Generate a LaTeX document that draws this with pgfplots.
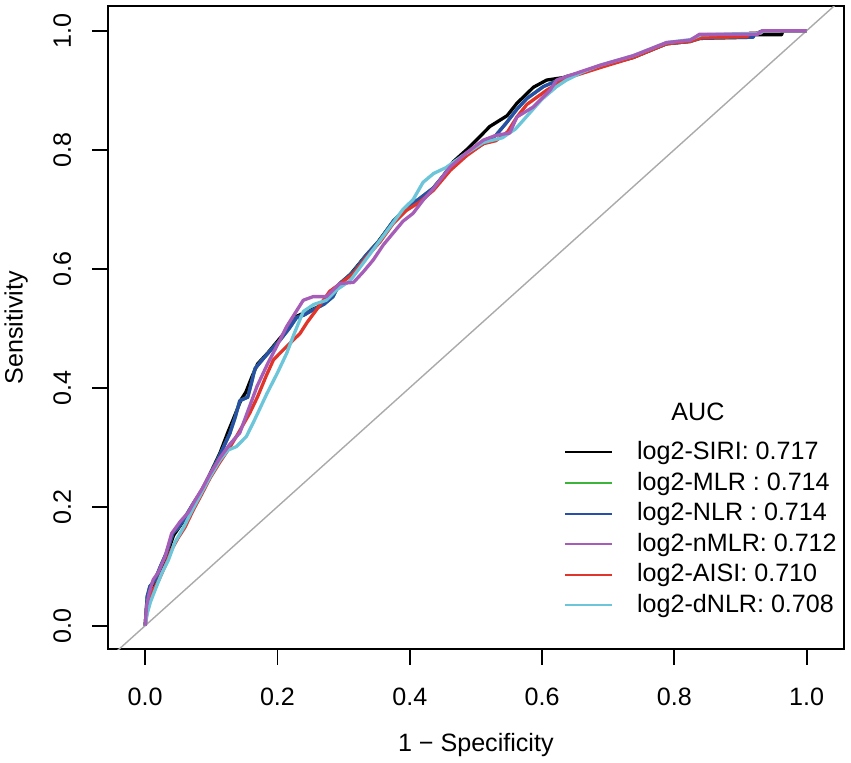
\documentclass[border=0pt]{standalone}
\usepackage{fontspec}
\setmainfont{Liberation Sans}
\usepackage{pgfplots}
\pgfplotsset{compat=1.18}
\definecolor{colBlack}{RGB}{0,0,0}
\definecolor{colGreen}{RGB}{60,180,60}
\definecolor{colBlue}{RGB}{40,80,168}
\definecolor{colPurple}{RGB}{166,93,184}
\definecolor{colRed}{RGB}{224,53,43}
\definecolor{colCyan}{RGB}{108,197,217}
\definecolor{colDiag}{RGB}{170,170,170}
\newcommand{\bigfont}{\fontsize{25.2}{30}\selectfont}
\begin{document}
\begin{tikzpicture}[x=1bp,y=1bp,font=\bigfont]
\useasboundingbox (0,0) rectangle (851,763);
\begin{axis}[
  at={(108bp,113.7bp)}, anchor=south west,
  scale only axis, width=735.7bp, height=643bp,
  xmin=-0.0562, xmax=1.056, ymin=-0.0397, ymax=1.041,
  axis line style={line width=1.8bp},
  xtick={0,0.2,0.4,0.6,0.8,1}, ytick={0,0.2,0.4,0.6,0.8,1},
  xticklabels={0.0,0.2,0.4,0.6,0.8,1.0},
  yticklabels={0.0,0.2,0.4,0.6,0.8,1.0},
  xtick pos=left, ytick pos=left,
  tick align=outside, major tick length=15.6bp,
  every tick/.style={line width=1.8bp, black},
  xticklabel style={anchor=north, inner sep=0pt, font=\bigfont},
  yticklabel style={rotate=90, anchor=south, inner sep=0pt, font=\bigfont},
  xticklabel shift=23.1bp, yticklabel shift=21.1bp,
  legend style={at={(axis cs:0.6285,0.315)}, anchor=north west, draw=none, fill=none,
    row sep=6.6bp, font=\bigfont,
    nodes={inner sep=0pt, text height=19bp, text depth=5bp},
    /tikz/every odd column/.append style={column sep=24.3bp}},
  legend cell align=left,
  legend image code/.code={\draw[#1,line width=2bp] (0bp,0bp) -- (46.7bp,0bp);},
]
\addlegendimage{color=colBlack}\addlegendentry{log2-SIRI: 0.717}
\addlegendimage{color=colGreen}\addlegendentry{log2-MLR : 0.714}
\addlegendimage{color=colBlue}\addlegendentry{log2-NLR : 0.714}
\addlegendimage{color=colPurple}\addlegendentry{log2-nMLR: 0.712}
\addlegendimage{color=colRed}\addlegendentry{log2-AISI: 0.710}
\addlegendimage{color=colCyan}\addlegendentry{log2-dNLR: 0.708}

\addplot[forget plot, color=colDiag, line width=1.4bp] coordinates {(-0.2,-0.2) (1.2,1.2)};

% SIRI
\addplot[forget plot, color=colBlack, line width=3.3bp, line join=round] coordinates {
(0,0) (0.002,0.03) (0.004,0.048) (0.008,0.062) (0.016,0.075) (0.024,0.095) (0.033,0.12) (0.043,0.152) (0.058,0.176) (0.073,0.205) (0.086,0.228) (0.098,0.255) (0.113,0.29) (0.125,0.325) (0.135,0.352) (0.145,0.38) (0.152,0.392) (0.162,0.42) (0.17,0.44) (0.185,0.458) (0.2,0.478) (0.215,0.498) (0.229,0.52) (0.245,0.528) (0.26,0.535) (0.28,0.55) (0.292,0.572) (0.31,0.59) (0.332,0.62) (0.352,0.645) (0.372,0.675) (0.392,0.7) (0.41,0.712) (0.43,0.728) (0.45,0.755) (0.466,0.78) (0.486,0.80) (0.506,0.822) (0.521,0.839) (0.547,0.857) (0.562,0.878) (0.587,0.905) (0.607,0.917) (0.637,0.922) (0.688,0.94) (0.738,0.955) (0.788,0.978) (0.824,0.982) (0.84,0.993) (0.962,0.993) (0.964,1.0) (1,1)};
% MLR
\addplot[forget plot, color=colGreen, line width=3.3bp, line join=round] coordinates {
(0,0) (0.002,0.032) (0.003,0.049) (0.007,0.066) (0.015,0.077) (0.022,0.097) (0.032,0.122) (0.042,0.156) (0.050,0.165) (0.058,0.178) (0.073,0.206) (0.085,0.226) (0.098,0.254) (0.113,0.287) (0.128,0.323) (0.136,0.35) (0.143,0.378) (0.155,0.384) (0.160,0.405) (0.166,0.432) (0.178,0.448) (0.189,0.462) (0.204,0.480) (0.218,0.500) (0.229,0.518) (0.240,0.522) (0.254,0.531) (0.270,0.540) (0.284,0.553) (0.294,0.575) (0.315,0.595) (0.335,0.624) (0.355,0.648) (0.375,0.680) (0.395,0.702) (0.415,0.718) (0.436,0.736) (0.461,0.770) (0.486,0.792) (0.511,0.810) (0.530,0.824) (0.546,0.845) (0.562,0.868) (0.577,0.886) (0.602,0.906) (0.637,0.923) (0.660,0.930) (0.688,0.940) (0.715,0.948) (0.738,0.956) (0.765,0.968) (0.788,0.978) (0.824,0.982) (0.839,0.987) (0.919,0.989) (0.921,0.994) (0.934,1.0) (1,1)};
% NLR
\addplot[forget plot, color=colBlue, line width=3.3bp, line join=round] coordinates {
(0,0) (0.002,0.032) (0.003,0.049) (0.007,0.066) (0.015,0.077) (0.022,0.097) (0.032,0.122) (0.042,0.156) (0.050,0.165) (0.058,0.178) (0.073,0.206) (0.085,0.226) (0.098,0.254) (0.113,0.287) (0.128,0.323) (0.136,0.35) (0.143,0.378) (0.155,0.384) (0.160,0.405) (0.166,0.432) (0.178,0.448) (0.189,0.462) (0.204,0.480) (0.218,0.500) (0.229,0.518) (0.240,0.522) (0.254,0.531) (0.270,0.540) (0.284,0.553) (0.294,0.575) (0.315,0.595) (0.335,0.624) (0.355,0.648) (0.375,0.680) (0.395,0.702) (0.415,0.718) (0.436,0.736) (0.461,0.770) (0.486,0.792) (0.511,0.810) (0.530,0.824) (0.546,0.845) (0.562,0.868) (0.577,0.886) (0.602,0.906) (0.637,0.923) (0.660,0.930) (0.688,0.940) (0.715,0.948) (0.738,0.956) (0.765,0.968) (0.788,0.978) (0.824,0.982) (0.839,0.987) (0.919,0.989) (0.921,0.994) (0.934,1.0) (1,1)};
% AISI
\addplot[forget plot, color=colRed, line width=3.3bp, line join=round] coordinates {
(0,0) (0.003,0.025) (0.006,0.045) (0.012,0.06) (0.02,0.075) (0.03,0.1) (0.04,0.128) (0.05,0.148) (0.06,0.165) (0.073,0.195) (0.086,0.222) (0.098,0.248) (0.113,0.275) (0.128,0.30) (0.14,0.322) (0.158,0.357) (0.17,0.385) (0.183,0.42) (0.194,0.447) (0.21,0.465) (0.234,0.491) (0.245,0.51) (0.259,0.531) (0.279,0.562) (0.295,0.575) (0.315,0.592) (0.335,0.62) (0.355,0.645) (0.375,0.676) (0.395,0.698) (0.415,0.712) (0.436,0.732) (0.461,0.765) (0.486,0.79) (0.511,0.81) (0.53,0.815) (0.548,0.83) (0.562,0.855) (0.577,0.876) (0.607,0.90) (0.637,0.92) (0.688,0.938) (0.738,0.955) (0.788,0.978) (0.824,0.982) (0.84,0.988) (0.91,0.99) (0.914,0.996) (0.93,0.996) (0.935,1) (1,1)};
% dNLR
\addplot[forget plot, color=colCyan, line width=3.3bp, line join=round] coordinates {
(0,0) (0.003,0.02) (0.008,0.04) (0.015,0.06) (0.025,0.088) (0.035,0.11) (0.045,0.14) (0.058,0.165) (0.073,0.198) (0.086,0.225) (0.098,0.25) (0.113,0.278) (0.125,0.295) (0.138,0.301) (0.153,0.318) (0.165,0.345) (0.184,0.39) (0.2,0.425) (0.214,0.458) (0.225,0.49) (0.239,0.528) (0.255,0.54) (0.274,0.547) (0.29,0.565) (0.31,0.58) (0.33,0.61) (0.35,0.64) (0.37,0.67) (0.39,0.70) (0.405,0.716) (0.42,0.745) (0.436,0.76) (0.455,0.77) (0.48,0.79) (0.511,0.812) (0.54,0.82) (0.56,0.835) (0.58,0.86) (0.6,0.885) (0.622,0.906) (0.637,0.917) (0.66,0.93) (0.688,0.942) (0.738,0.958) (0.788,0.98) (0.824,0.985) (0.84,0.993) (0.93,0.996) (0.935,1) (1,1)};
% nMLR
\addplot[forget plot, color=colPurple, line width=3.3bp, line join=round] coordinates {
(0,0) (0.002,0.032) (0.006,0.055) (0.012,0.077) (0.02,0.09) (0.03,0.116) (0.04,0.155) (0.053,0.175) (0.065,0.19) (0.075,0.21) (0.086,0.23) (0.098,0.255) (0.113,0.282) (0.128,0.305) (0.143,0.324) (0.155,0.36) (0.169,0.402) (0.185,0.44) (0.2,0.472) (0.214,0.503) (0.239,0.547) (0.254,0.553) (0.274,0.553) (0.294,0.575) (0.315,0.577) (0.33,0.595) (0.345,0.615) (0.36,0.64) (0.375,0.66) (0.39,0.68) (0.405,0.693) (0.42,0.715) (0.436,0.735) (0.461,0.771) (0.486,0.795) (0.511,0.816) (0.53,0.824) (0.551,0.828) (0.562,0.855) (0.587,0.872) (0.612,0.90) (0.622,0.917) (0.637,0.923) (0.688,0.942) (0.738,0.958) (0.788,0.98) (0.824,0.984) (0.838,0.994) (0.926,0.994) (0.93,0.998) (0.934,1.0) (1,1)};

\node at (axis cs:0.8357,0.3597) {AUC};
\end{axis}
\node[anchor=base] at (475.8,11) {1 − Specificity};
\node[rotate=90, anchor=base] at (22.7,435.2) {Sensitivity};
\end{tikzpicture}
\end{document}
